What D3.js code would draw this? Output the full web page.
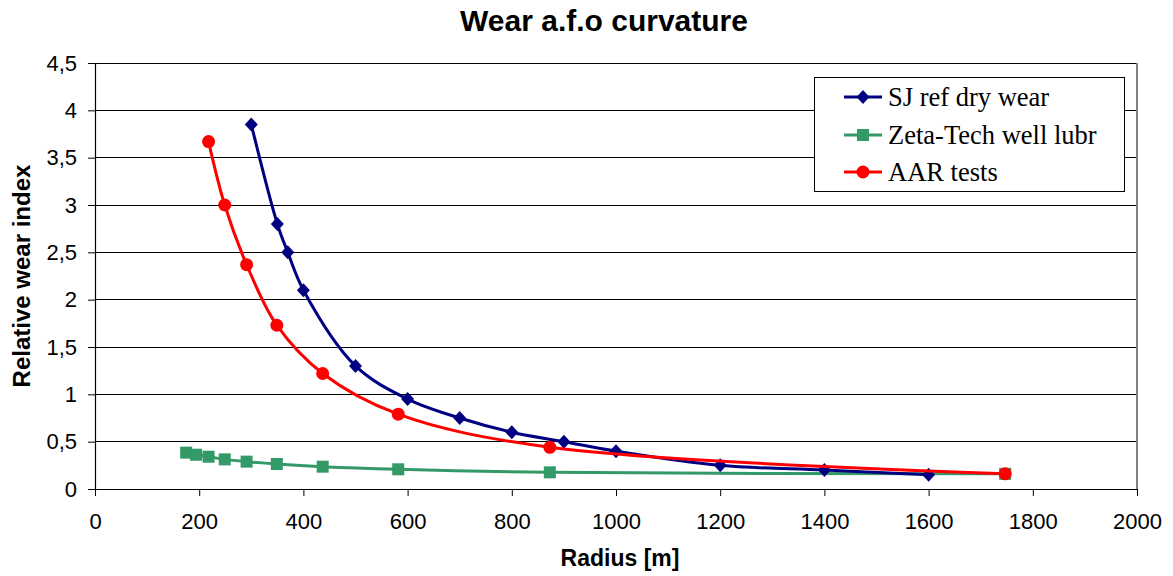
<!DOCTYPE html>
<html><head><meta charset="utf-8">
<script src="https://cdn.jsdelivr.net/npm/d3@7"></script>
<style>body{margin:0;background:#fff}svg{display:block}</style>
</head><body><svg id="c" width="1173" height="576"></svg>
<script>
const title = "Wear a.f.o curvature";
const xTitle = "Radius [m]";
const yTitle = "Relative wear index";
const xTicks = [0,200,400,600,800,1000,1200,1400,1600,1800,2000];
const yTicks = [0,0.5,1,1.5,2,2.5,3,3.5,4,4.5];
const seriesNames = ["SJ ref dry wear","Zeta-Tech well lubr","AAR tests"];
const sjX = [300,350,370,400,500,600,700,800,900,1000,1200,1400,1600];
const sjY = [3.85,2.8,2.5,2.1,1.3,0.95,0.75,0.6,0.5,0.4,0.25,0.2,0.15];
const ztX = [175,194,218,249,291,349,437,582,873,1747];
const ztY = [0.384,0.362,0.341,0.313,0.289,0.264,0.236,0.208,0.176,0.16];
const aarX = [218,249,291,349,437,582,873,1747];
const aarY = [3.67,3.0,2.37,1.73,1.22,0.79,0.44,0.16];

const svg = d3.select("#c");
const L=95, R=1137, T=63, B=489;
const x = d3.scaleLinear().domain([0,2000]).range([L,R]);
const y = d3.scaleLinear().domain([0,4.5]).range([B,T]);
const fmt = d => String(d).replace(".", ",");
const sans = "Liberation Sans, Arial, sans-serif";

// gridlines
svg.append("g").selectAll("line").data(yTicks.filter(d=>d>0)).join("line")
  .attr("x1",L).attr("x2",R).attr("y1",d=>y(d)).attr("y2",d=>y(d))
  .attr("stroke","#000").attr("stroke-width",1).attr("shape-rendering","crispEdges");
// plot border right
svg.append("line").attr("x1",R).attr("x2",R).attr("y1",T).attr("y2",B)
  .attr("stroke","#808080").attr("stroke-width",1.5).attr("shape-rendering","crispEdges");

// axes
const xa = svg.append("g").attr("transform",`translate(0,${B})`)
  .call(d3.axisBottom(x).tickValues(xTicks).tickSize(7).tickSizeOuter(0).tickPadding(17).tickFormat(d=>d));
const ya = svg.append("g").attr("transform",`translate(${L},0)`)
  .call(d3.axisLeft(y).tickValues(yTicks).tickSize(7).tickSizeOuter(0).tickPadding(11).tickFormat(fmt));
[xa,ya].forEach(a=>{
  a.select(".domain").attr("stroke","#000").attr("stroke-width",1.2);
  a.selectAll(".tick line").attr("stroke","#000");
  a.selectAll("text").attr("font-family",sans).attr("font-size",22).attr("fill","#000");
});

const line = d3.line().x(d=>x(d[0])).y(d=>y(d[1])).curve(d3.curveCatmullRom.alpha(0.5));
const data = [
  {name:seriesNames[0], pts:d3.zip(sjX,sjY), color:"#000080", sym:"diamond"},
  {name:seriesNames[1], pts:d3.zip(ztX,ztY), color:"#339966", sym:"square"},
  {name:seriesNames[2], pts:d3.zip(aarX,aarY), color:"#ff0000", sym:"circle"}
];
function drawSym(g, s, cx, cy){
  if (s.sym==="circle") g.append("circle").attr("cx",cx).attr("cy",cy).attr("r",6.5).attr("fill",s.color);
  else if (s.sym==="square") g.append("rect").attr("x",cx-6).attr("y",cy-6).attr("width",12).attr("height",12).attr("fill",s.color);
  else g.append("path").attr("d",`M${cx},${cy-7}L${cx+6.5},${cy}L${cx},${cy+7}L${cx-6.5},${cy}Z`).attr("fill",s.color);
}
[data[1],data[0],data[2]].forEach(s=>{
  svg.append("path").attr("d",line(s.pts)).attr("fill","none").attr("stroke",s.color).attr("stroke-width",3);
  const g = svg.append("g");
  s.pts.forEach(p=>drawSym(g,s,x(p[0]),y(p[1])));
});

// legend
const lg = svg.append("g");
lg.append("rect").attr("x",814.5).attr("y",77.5).attr("width",310).attr("height",114)
  .attr("fill","#fff").attr("stroke","#000").attr("stroke-width",1);
const ly = [97,135,172];
data.forEach((s,i)=>{
  lg.append("line").attr("x1",844).attr("x2",882).attr("y1",ly[i]).attr("y2",ly[i]).attr("stroke",s.color).attr("stroke-width",3);
  drawSym(lg,s,863,ly[i]);
  lg.append("text").attr("x",888).attr("y",ly[i]+9).text(s.name)
    .attr("font-family","Liberation Serif, Times New Roman, serif").attr("font-size",26.5).attr("fill","#000");
});

// titles
svg.append("text").attr("x",604).attr("y",31).attr("text-anchor","middle").text(title)
  .attr("font-family",sans).attr("font-weight","bold").attr("font-size",30);
svg.append("text").attr("x",620).attr("y",566).attr("text-anchor","middle").text(xTitle)
  .attr("font-family",sans).attr("font-weight","bold").attr("font-size",23);
svg.append("text").attr("transform","translate(30,276) rotate(-90)").attr("text-anchor","middle").text(yTitle)
  .attr("font-family",sans).attr("font-weight","bold").attr("font-size",24);
</script></body></html>
